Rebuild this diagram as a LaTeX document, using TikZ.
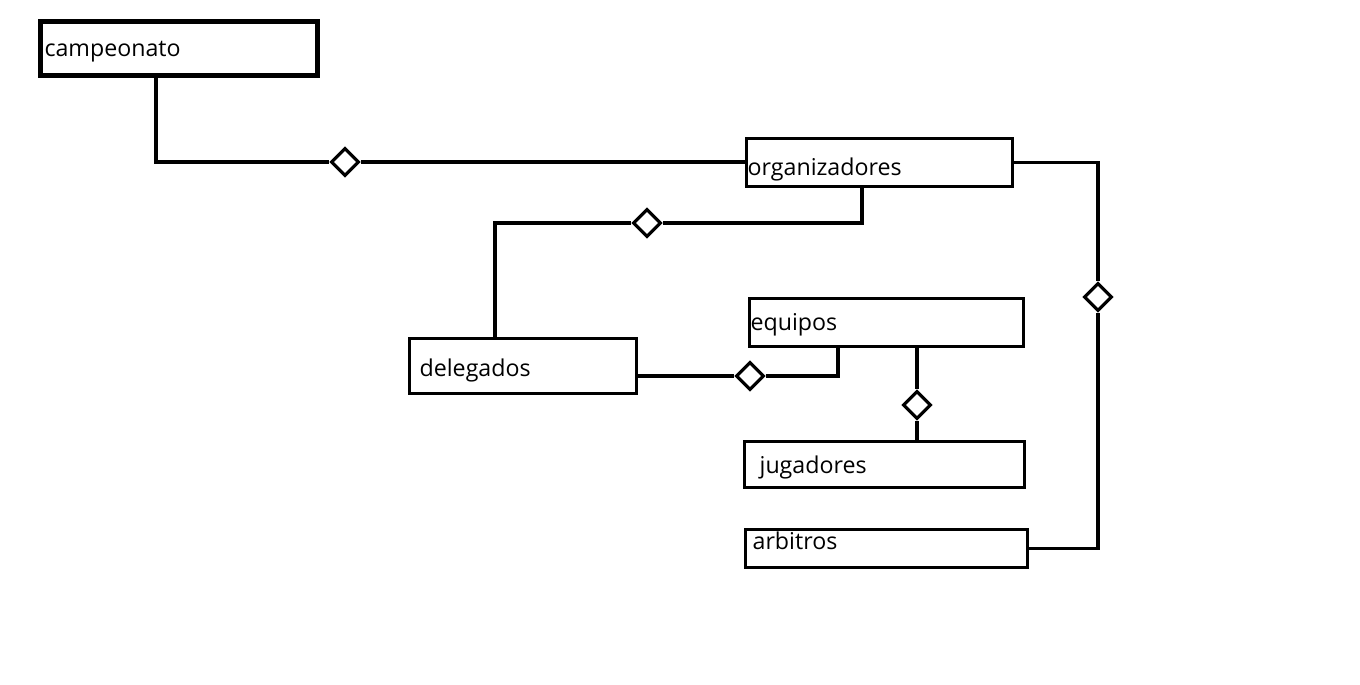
\documentclass[tikz,border=0pt]{standalone}
\usepackage{fontspec}
\setmainfont{Open Sans}
\usepackage{tikz}
\usetikzlibrary{positioning, shapes.geometric}

\begin{document}
\begin{tikzpicture}[
  x=0.025cm, y=-0.025cm,
  every node/.style={font=\fontsize{16.5}{19}\selectfont},
  entity/.style={rectangle, draw, line width=2.3pt, anchor=north west, align=left,
    inner ysep=0pt, text height=0.45cm, text depth=0.15cm},
  rel/.style={diamond, draw, fill=white, line width=2.3pt, minimum size=0.7cm, inner sep=0pt},
  link/.style={line width=2.4pt},
]
\useasboundingbox (0,0) rectangle (1360,684);
% entidades
\node[entity, line width=3.6pt, inner xsep=0.1cm, text width=6.725cm, minimum height=1.35cm] (camp) at (38,19) {\raisebox{-0.05cm}{campeonato}};
\node[entity, inner xsep=0.025cm, text width=6.6cm, minimum height=1.2cm] (org) at (745,137) {\raisebox{-0.175cm}{organizadores}};
\node[entity, inner xsep=0.25cm, text width=5.175cm, minimum height=1.375cm] (dele) at (408,337) {\raisebox{-0.1cm}{delegados}};
\node[entity, inner xsep=0.025cm, text width=6.8cm, minimum height=1.2cm] (equi) at (748,297) {\raisebox{-0.05cm}{equipos}};
\node[entity, inner xsep=0.375cm, text width=6.25cm, minimum height=1.15cm] (jug) at (743,440) {\raisebox{-0.075cm}{jugadores}};
\node[entity, inner xsep=0.175cm, text width=6.7cm, minimum height=0.95cm] (arb) at (744,528) {\raisebox{0.12cm}{arbitros}};
% relaciones
\node[rel] (r1) at (345,162) {};
\node[rel] (r2) at (647,223) {};
\node[rel] (r3) at (1098,297) {};
\node[rel] (r4) at (750,376) {};
\node[rel] (r5) at (917,405) {};
\coordinate (k1) at (156,0);
\coordinate (k2) at (862,0);
\coordinate (k3) at (495,0);
\coordinate (k4) at (838,0);
% conexiones
\draw[link] (camp.south -| k1) |- (r1.west);
\draw[link] (r1.east) -- (r1.east -| org.west);
\draw[link] (org.south -| k2) |- (r2.east);
\draw[link] (r2.west) -| (k3 |- dele.north);
\draw[link] (org.east) -| (r3.north);
\draw[link] (r3.south) |- (arb.east);
\draw[link] (dele.east |- r4) -- (r4.west);
\draw[link] (r4.east) -| (k4 |- equi.south);
\draw[link] (equi.south -| r5) -- (r5.north);
\draw[link] (r5.south) -- (r5.south |- jug.north);
\end{tikzpicture}
\end{document}
